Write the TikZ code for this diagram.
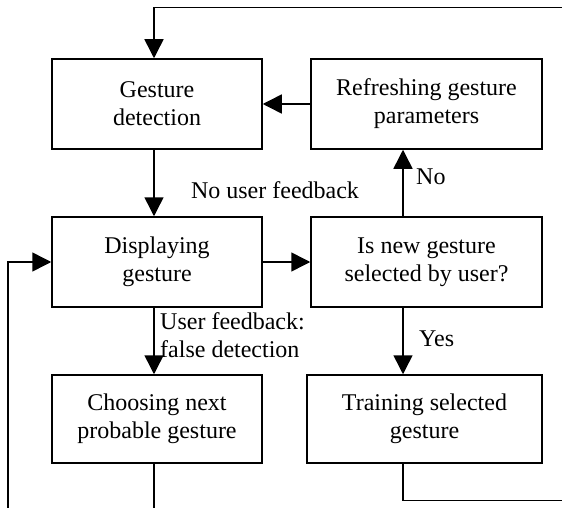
\documentclass[tikz,border=0pt]{standalone}
\usepackage{fontspec}
\setmainfont{Liberation Serif}
\usetikzlibrary{arrows.meta}
\begin{document}
\begin{tikzpicture}[x=1pt,y=-1pt,
  every node/.style={inner sep=0pt},
  procbox/.style={draw, line width=1.5pt, minimum height=90pt, align=center,
    font=\fontsize{24}{28}\selectfont},
  lbl/.style={font=\fontsize{24}{28}\selectfont, align=left},
  flow/.style={line width=1.5pt},
  arr/.style={flow, -{Triangle[length=19pt,width=19pt]}}]
\useasboundingbox (0,0) rectangle (562,508);

% process boxes
\node[procbox, minimum width=210pt] (det)    at (157,104)   {Gesture\\detection};
\node[procbox, minimum width=231pt] (ref)    at (426.5,104) {Refreshing gesture\\parameters};
\node[procbox, minimum width=210pt] (disp)   at (157,262)   {Displaying\\gesture};
\node[procbox, minimum width=231pt] (isnew)  at (426.5,262) {Is new gesture\\selected by user?};
\node[procbox, minimum width=210pt, minimum height=88pt] (choose) at (157,419) {Choosing next\\probable gesture};
\node[procbox, minimum width=235pt, minimum height=88pt] (train)  at (424.5,419) {Training selected\\gesture};

% columns used by the vertical connectors
\coordinate (lx) at (154,0);
\coordinate (rx) at (403,0);

% free ends at the picture border
\coordinate (topin)  at (562,7.5);
\coordinate (topc)   at (154,7.5);
\coordinate (leftin) at (8,508);
\coordinate (leftc)  at (8,262);
\coordinate (chout)  at (154,508);
\coordinate (trc)    at (403,500.5);
\coordinate (trout)  at (562,500.5);

% connectors
\draw[arr] (topin) -- (topc) -- (det.north -| lx);
\draw[arr] (ref.west) -- (det.east);
\draw[arr] (det.south -| lx) -- (disp.north -| lx);
\draw[arr] (disp.east) -- (isnew.west);
\draw[arr] (isnew.north -| rx) -- (ref.south -| rx);
\draw[arr] (isnew.south -| rx) -- (train.north -| rx);
\draw[arr] (disp.south -| lx) -- (choose.north -| lx);
\draw[flow] (choose.south -| lx) -- (chout);
\draw[arr] (leftin) -- (leftc) -- (disp.west);
\draw[flow] (train.south -| rx) -- (trc) -- (trout);

% connector labels
\node[lbl] (nofb) at (275,190) {No user feedback};
\node[lbl, anchor=west] (no)  at (416,177) {No};
\node[lbl, anchor=west] (yes) at (419,339) {Yes};
\node[lbl, anchor=north west] (fb) at (160,312) {User feedback:\\false detection};
\end{tikzpicture}
\end{document}
